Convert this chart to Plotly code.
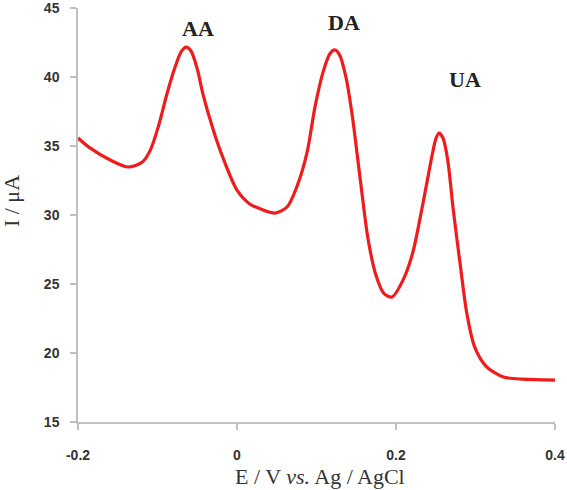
import plotly.graph_objects as go

# Potential (V vs Ag/AgCl) and current (µA)
potential = [-0.200, -0.185, -0.160, -0.137, -0.119, -0.109, -0.099, -0.088, -0.078,
             -0.070, -0.064, -0.058, -0.050, -0.043, -0.030, -0.018, 0.000, 0.016, 0.029,
             0.048, 0.063, 0.075, 0.088, 0.098, 0.108, 0.117, 0.123, 0.129, 0.137,
             0.145, 0.155, 0.165, 0.175, 0.185, 0.195, 0.209, 0.221, 0.234, 0.245,
             0.250, 0.254, 0.259, 0.265, 0.272, 0.281, 0.289, 0.299, 0.314, 0.335,
             0.360, 0.400]
current = [35.58, 34.86, 34.00, 33.48, 33.84, 34.70, 36.40, 38.80, 40.70,
           41.85, 42.17, 41.90, 40.60, 38.80, 36.20, 34.20, 31.80, 30.80, 30.45,
           30.14, 30.58, 32.00, 34.50, 37.80, 40.30, 41.70, 41.96, 41.60, 40.00,
           37.20, 32.60, 28.20, 25.60, 24.30, 24.06, 25.30, 27.25, 30.87, 34.20,
           35.50, 35.94, 35.60, 34.00, 30.40, 26.30, 22.90, 20.43, 19.00, 18.26,
           18.10, 18.04]

x_ticks = [-0.2, 0, 0.2, 0.4]
x_tick_labels = ["-0.2", "0", "0.2", "0.4"]
y_ticks = [15, 20, 25, 30, 35, 40, 45]

peak_labels = ["AA", "DA", "UA"]
peak_label_x = [-0.049, 0.135, 0.287]
peak_label_y = [43.55, 43.95, 39.8]

x_title = "E / V <i>vs.</i> Ag / AgCl"
y_title = "I / μA"

fig = go.Figure()
fig.add_trace(go.Scatter(x=potential, y=current, mode="lines",
                         line=dict(color="#ee1c1c", width=3.2, shape="spline", smoothing=0.8),
                         hoverinfo="skip", showlegend=False))

for t, xx, yy in zip(peak_labels, peak_label_x, peak_label_y):
    fig.add_annotation(x=xx, y=yy, text="<b>%s</b>" % t, showarrow=False,
                       font=dict(family="Liberation Serif", size=22, color="#222222"))

# axis titles as annotations for precise placement
fig.add_annotation(x=0.508, y=-0.131, xref="paper", yref="paper", text=x_title,
                   showarrow=False, xanchor="center", yanchor="middle",
                   font=dict(family="Liberation Serif", size=22, color="#333333"))
fig.add_annotation(x=-0.138, y=0.534, xref="paper", yref="paper", text=y_title,
                   showarrow=False, textangle=-90, xanchor="center", yanchor="middle",
                   font=dict(family="Liberation Serif", size=22, color="#333333"))

axis_common = dict(showgrid=False, zeroline=False, showline=True, linecolor="#c0c0c0",
                   linewidth=1.5, ticks="outside", ticklen=6, tickcolor="#c0c0c0",
                   tickwidth=1.5, automargin=False, ticklabeloverflow="allow",
                   tickfont=dict(family="Liberation Sans", size=14, color="#333333", weight="bold"))

fig.update_xaxes(range=[-0.2, 0.4], tickvals=x_ticks, ticktext=x_tick_labels,
                 ticklabelstandoff=13, **axis_common)
fig.update_yaxes(range=[15, 45], tickvals=y_ticks, ticklabelstandoff=8, **axis_common)

fig.update_layout(width=567, height=490, margin=dict(l=78, r=12, t=8, b=68),
                  plot_bgcolor="white", paper_bgcolor="white")

fig.write_html("out.html")
